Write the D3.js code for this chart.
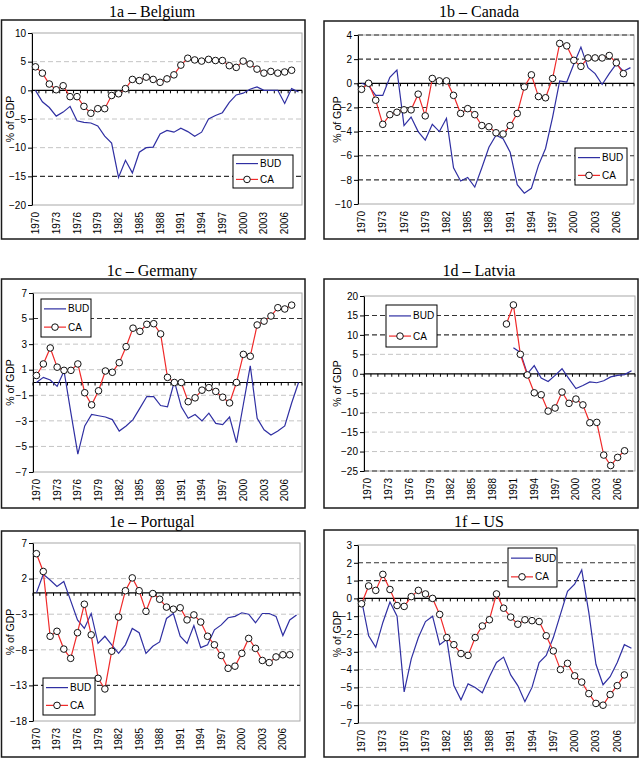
<!DOCTYPE html>
<html><head><meta charset="utf-8">
<script src="https://cdn.jsdelivr.net/npm/d3@7"></script>
<style>
html,body{margin:0;padding:0;background:#fff;}
svg{display:block;}
text{font-family:"Liberation Sans",Arial,sans-serif;}
</style></head>
<body>
<svg id="chart" width="644" height="758"></svg>
<script>
// ---------- DATA ----------
const years = [1970,1971,1972,1973,1974,1975,1976,1977,1978,1979,1980,1981,1982,1983,1984,1985,1986,1987,1988,1989,1990,1991,1992,1993,1994,1995,1996,1997,1998,1999,2000,2001,2002,2003,2004,2005,2006,2007,2008];
const yearLabels = [1970,1973,1976,1979,1982,1985,1988,1991,1994,1997,2000,2003,2006];
const seriesNames = ["BUD","CA"];

const belgiumBud = [0,-2.0,-3.0,-4.5,-3.8,-2.8,-5.3,-5.6,-5.7,-6.2,-8.0,-9.2,-15.2,-12.2,-14.4,-10.8,-10.0,-9.9,-7.6,-7.0,-7.3,-6.6,-7.2,-8.0,-7.3,-5.0,-4.4,-3.9,-2.1,-0.8,-0.5,0.2,0.6,0.0,0.0,0.0,-2.3,0.3,-0.3];
const belgiumCa  = [4.1,3.0,1.1,0.1,0.8,-1.1,-1.1,-2.8,-4.0,-3.2,-3.2,-0.9,-0.6,0.3,1.9,1.7,2.3,1.9,1.4,2.0,2.7,4.4,5.6,5.3,5.1,5.4,5.2,5.2,4.3,4.0,5.1,4.6,3.7,3.0,3.3,3.0,3.2,3.5,null];
const belgiumTicks = [-20,-15,-10,-5,0,5,10];

const canadaBud = [0.0,-0.2,-1.0,-1.0,0.5,1.1,-3.5,-2.8,-4.0,-4.7,-3.4,-4.0,-2.9,-7.0,-8.1,-7.8,-8.6,-7.0,-5.3,-4.3,-4.6,-5.7,-8.4,-9.1,-8.7,-6.8,-5.4,-2.8,0.2,0.1,1.6,3.0,1.3,0.8,-0.1,0.8,1.6,1.0,1.3];
const canadaCa  = [-0.5,0.0,-1.4,-3.4,-2.6,-2.4,-2.2,-2.2,-0.9,-2.7,0.4,0.2,0.2,-1.0,-2.5,-2.1,-2.6,-3.5,-3.6,-4.1,-4.2,-3.5,-2.5,-0.3,0.7,-1.1,-1.2,0.4,3.3,3.1,1.9,1.4,2.1,2.1,2.1,2.3,1.7,0.8,null];
const canadaTicks = [-10,-8,-6,-4,-2,0,2,4];

const germanyBud = [0.0,0.4,0.2,-0.3,0.9,-2.4,-5.6,-3.4,-2.5,-2.6,-2.7,-2.9,-3.8,-3.4,-2.9,-2.0,-1.1,-1.1,-1.8,-1.9,0.1,-1.9,-2.8,-2.5,-3.0,-2.4,-3.2,-3.3,-2.7,-4.7,-1.7,1.3,-2.8,-3.7,-4.1,-3.8,-3.4,-1.6,0.0];
const germanyCa  = [0.55,1.45,2.7,1.2,0.95,0.95,1.45,-0.8,-1.75,-0.65,0.9,0.8,1.55,2.8,4.25,4.0,4.55,4.6,3.8,0.4,0.0,0.0,-1.5,-1.2,-0.6,-0.4,-0.7,-1.15,-1.6,0.0,2.2,2.05,4.5,4.8,5.2,5.85,5.75,6.05,null];
const germanyTicks = [-7,-5,-3,-1,1,3,5,7];

const latviaBud = [null,null,null,null,null,null,null,null,null,null,null,null,null,null,null,null,null,null,null,null,null,6.7,5.5,0.0,2.1,-1.1,-2.0,-0.4,1.3,-1.3,-3.8,-3.0,-2.1,-2.3,-1.8,-0.8,-0.4,-0.2,0.8];
const latviaCa  = [null,null,null,null,null,null,null,null,null,null,null,null,null,null,null,null,null,null,null,null,12.8,17.7,5.0,-0.3,-4.9,-5.4,-9.6,-8.8,-4.7,-7.6,-6.5,-8.0,-12.6,-12.5,-20.9,-23.6,-21.5,-19.8,null];
const latviaTicks = [-25,-20,-15,-10,-5,0,5,10,15,20];

const portugalBud = [0.0,2.6,1.8,0.9,1.6,-1.1,-3.8,-5.0,-2.9,-7.1,-6.1,-7.3,-8.5,-7.3,-5.0,-5.6,-8.5,-7.5,-6.9,-3.6,-2.9,-6.1,-7.1,-4.6,-7.7,-7.3,-5.2,-4.5,-3.5,-3.3,-2.8,-3.0,-4.2,-2.9,-2.9,-3.3,-6.0,-3.8,-3.1];
const portugalCa  = [5.5,3.0,-6.1,-5.4,-7.9,-9.2,-5.6,-1.6,-5.9,-12.0,-13.5,-8.2,-3.4,0.3,2.1,0.3,-2.6,-0.1,-0.9,-2.0,-2.3,-2.1,-3.8,-3.1,-4.1,-6.1,-7.3,-8.8,-10.6,-10.3,-8.5,-6.4,-7.8,-9.5,-9.8,-9.0,-8.7,-8.7,null];
const portugalTicks = [-18,-13,-8,-3,2,7];

const usBud = [-0.1,-2.1,-2.75,-1.35,-0.2,-1.0,-5.25,-3.4,-2.2,-1.3,-1.0,-2.6,-2.3,-4.9,-5.7,-4.8,-5.0,-5.3,-4.4,-3.6,-3.3,-4.3,-4.9,-5.8,-5.0,-3.6,-3.2,-2.2,-0.9,0.4,0.8,1.6,-0.8,-3.7,-4.85,-4.4,-3.6,-2.6,-2.8];
const usCa  = [-0.3,0.7,0.45,1.35,0.5,-0.4,-0.45,0.1,0.45,0.25,0.0,-0.9,-2.2,-2.6,-3.1,-3.2,-2.2,-1.55,-1.2,0.25,-0.55,-1.05,-1.45,-1.2,-1.25,-1.3,-2.1,-2.95,-4.0,-3.65,-4.35,-4.7,-5.35,-5.9,-6.0,-5.4,-4.9,-4.3,null];
const usTicks = [-7,-6,-5,-4,-3,-2,-1,0,1,2,3];

// ---------- LAYOUT ----------
const panels = [
  {title:"1a \u2013 Belgium", bud:belgiumBud, ca:belgiumCa, ticks:belgiumTicks,
   box:[1.5,20,305,239], tx:152, ty:17, plot:[32,33,302,205], dark:[-15], light:[5,-5,-10], legend:[233,155,60,33]},
  {title:"1b \u2013 Canada", bud:canadaBud, ca:canadaCa, ticks:canadaTicks,
   box:[324,21,638,239], tx:479, ty:17, plot:[358,35,634,204], dark:[4,2,-2,-4,-6,-8], light:[], legend:[575,148,52,37]},
  {title:"1c \u2013 Germany", bud:germanyBud, ca:germanyCa, ticks:germanyTicks,
   box:[1.5,279,305,508], tx:152, ty:276, plot:[33,293,302,472], dark:[5], light:[3,1,-1,-3,-5], legend:[41,299,50,38]},
  {title:"1d \u2013 Latvia", bud:latviaBud, ca:latviaCa, ticks:latviaTicks,
   box:[324,279,638,508], tx:479, ty:276, plot:[364,296,635,471], dark:[15,10,-25], light:[5,-5,-10,-15,-20], legend:[386,305,51,42]},
  {title:"1e \u2013 Portugal", bud:portugalBud, ca:portugalCa, ticks:portugalTicks,
   box:[1.5,531,305,757], tx:152, ty:527, plot:[33,543,300,721], dark:[-13], light:[2,-3,-8], legend:[43,678,52,37]},
  {title:"1f \u2013 US", bud:usBud, ca:usCa, ticks:usTicks,
   box:[324,530,638,757], tx:479, ty:527, plot:[358,545,635,723], dark:[2,1], light:[-1,-2,-3,-4,-5,-6], legend:[508,548,49,39]}
];

const BLUE = "#2f2fa2", RED = "#f02a2a";
const svg = d3.select("#chart");

panels.forEach(p => {
  const g = svg.append("g");
  const [bx0,by0,bx1,by1] = p.box;
  g.append("rect").attr("x",bx0).attr("y",by0).attr("width",bx1-bx0).attr("height",by1-by0)
    .attr("fill","#fff").attr("stroke","#1a1a1a").attr("stroke-width",1.5);
  g.append("text").attr("x",p.tx).attr("y",p.ty).attr("text-anchor","middle")
    .style("font-family","'Liberation Serif','Times New Roman',serif").style("font-size","16px")
    .text(p.title);

  const [L,T,R,B] = p.plot;
  const x = d3.scaleBand().domain(years).range([L,R]).padding(0);
  const xc = yr => x(yr) + x.bandwidth()/2;
  const y = d3.scaleLinear().domain([d3.min(p.ticks), d3.max(p.ticks)]).range([B,T]);

  // plot area border
  g.append("rect").attr("x",L).attr("y",T).attr("width",R-L).attr("height",B-T)
    .attr("fill","none").attr("stroke","#a8a8a8").attr("stroke-width",1);

  // gridlines
  p.light.forEach(v => g.append("line").attr("x1",L).attr("x2",R).attr("y1",y(v)).attr("y2",y(v))
    .attr("stroke","#c4c4c4").attr("stroke-dasharray","5,3").attr("stroke-width",1));
  p.dark.forEach(v => g.append("line").attr("x1",L).attr("x2",R).attr("y1",y(v)).attr("y2",y(v))
    .attr("stroke","#333").attr("stroke-dasharray","5,3").attr("stroke-width",1.1));

  // y axis
  const yAxis = d3.axisLeft(y).tickValues(p.ticks).tickSize(4).tickSizeOuter(0).tickFormat(d3.format("d"));
  const ya = g.append("g").attr("transform",`translate(${L},0)`).call(yAxis);
  ya.select(".domain").attr("stroke","#000");
  ya.selectAll(".tick line").attr("stroke","#000");
  ya.selectAll(".tick text").attr("x",-6).style("font-size","10px").style("font-family","'Liberation Sans',Arial,sans-serif").attr("fill","#000");

  // zero line with category ticks
  g.append("line").attr("x1",L).attr("x2",R).attr("y1",y(0)).attr("y2",y(0)).attr("stroke","#000").attr("stroke-width",1.2);
  years.forEach(yr => g.append("line").attr("x1",x(yr)).attr("x2",x(yr)).attr("y1",y(0)).attr("y2",y(0)+3).attr("stroke","#000"));
  g.append("line").attr("x1",R).attr("x2",R).attr("y1",y(0)).attr("y2",y(0)+3).attr("stroke","#000");

  // x labels (rotated) at bottom
  yearLabels.forEach(yr => {
    g.append("text").attr("transform",`translate(${xc(yr)+3.5},${B+7}) rotate(-90)`)
      .attr("text-anchor","end").style("font-size","10px").text(yr);
  });

  // y title
  g.append("text").attr("transform",`translate(${bx0+ (p.box[0]>100?13:8.5)},${(T+B)/2}) rotate(-90)`)
    .attr("text-anchor","middle").attr("dy","0.35em").style("font-size","10.5px").text("% of GDP");

  // series
  const line = d3.line().defined(d => d.v !== null).x(d => xc(d.yr)).y(d => y(d.v));
  const budData = years.map((yr,i) => ({yr, v:p.bud[i]}));
  const caData = years.map((yr,i) => ({yr, v:p.ca[i]}));
  g.append("path").datum(budData).attr("d",line).attr("fill","none").attr("stroke",BLUE).attr("stroke-width",1.2);
  g.append("path").datum(caData).attr("d",line).attr("fill","none").attr("stroke",RED).attr("stroke-width",1.2);
  g.selectAll(".pt").data(caData.filter(d => d.v !== null)).enter().append("circle")
    .attr("cx",d => xc(d.yr)).attr("cy",d => y(d.v)).attr("r",3.3)
    .attr("fill","#fff").attr("stroke","#111").attr("stroke-width",1);

  // legend
  const [lx,ly,lw,lh] = p.legend;
  g.append("rect").attr("x",lx).attr("y",ly).attr("width",lw).attr("height",lh)
    .attr("fill","#fff").attr("stroke","#000").attr("stroke-width",1);
  seriesNames.forEach((nm,i) => {
    const yy = ly + lh*(i===0 ? 0.26 : 0.74);
    g.append("line").attr("x1",lx+3).attr("x2",lx+25).attr("y1",yy).attr("y2",yy)
      .attr("stroke", i===0 ? BLUE : RED).attr("stroke-width",1.2);
    if (i===1) g.append("circle").attr("cx",lx+14).attr("cy",yy).attr("r",3.3)
      .attr("fill","#fff").attr("stroke","#111");
    g.append("text").attr("x",lx+27).attr("y",yy).attr("dy","0.35em").style("font-size","10px").text(nm);
  });
});
</script>
</body></html>
